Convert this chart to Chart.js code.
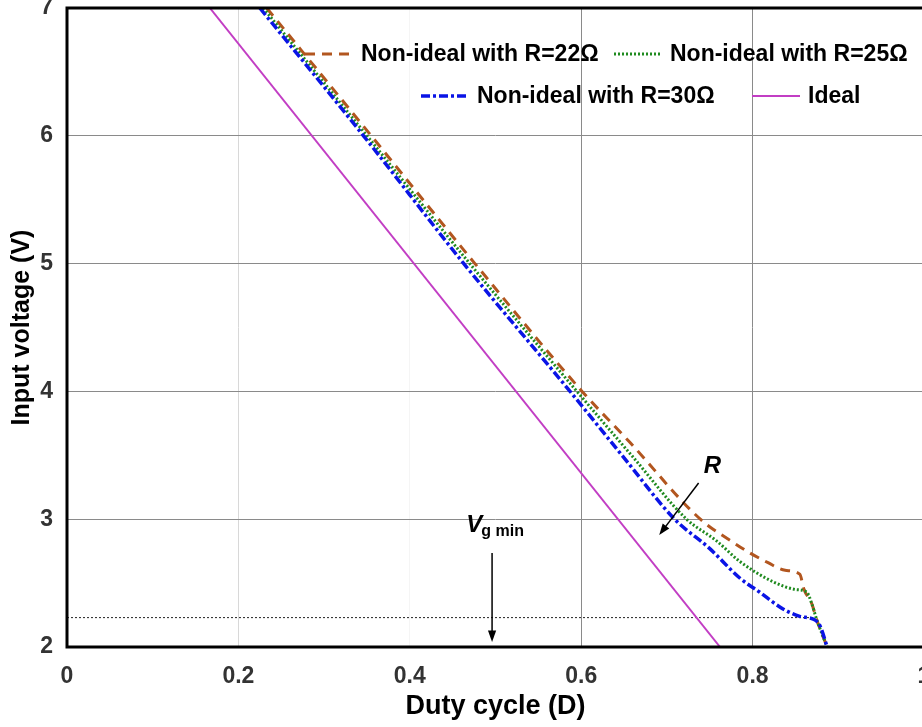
<!DOCTYPE html>
<html>
<head>
<meta charset="utf-8">
<script src="https://cdn.jsdelivr.net/npm/chart.js@4.4.0/dist/chart.umd.min.js"></script>
<style>
  html, body { margin: 0; padding: 0; background: #fff; overflow: hidden; }
  .chart-box { position: relative; width: 940px; height: 727px; }
</style>
</head>
<body>
<div class="chart-box"><canvas id="dutyChart"></canvas></div>
<script>
// values (duty cycle D -> input voltage V)
const dutyR22 = [0.233, 0.355, 0.476, 0.601, 0.657, 0.739, 0.777, 0.797, 0.818, 0.838, 0.855, 0.860, 0.869, 0.875, 0.887];
const vinR22  = [7, 6, 5, 4, 3.6, 3, 2.82, 2.735, 2.66, 2.60, 2.57, 2.45, 2.34, 2.21, 2.0];

const dutyR25 = [0.229, 0.350, 0.470, 0.595, 0.660, 0.723, 0.758, 0.785, 0.824, 0.850, 0.863, 0.869, 0.875, 0.887];
const vinR25  = [7, 6, 5, 4, 3.49, 3, 2.83, 2.67, 2.51, 2.45, 2.43, 2.34, 2.21, 2.0];

const dutyR30 = [0.225, 0.346, 0.463, 0.587, 0.650, 0.709, 0.750, 0.785, 0.808, 0.835, 0.855, 0.873, 0.879, 0.887];
const vinR30  = [7, 6, 5, 4, 3.48, 3, 2.77, 2.54, 2.43, 2.30, 2.24, 2.21, 2.16, 2.0];

const dutyIdeal = [0.1667, 0.762];
const vinIdeal  = [7, 2];

// minimum input voltage reference (dotted line)
const dutyVgmin = [0, 0.875];
const vinVgmin  = [2.23, 2.23];

const xTicks = [0, 0.2, 0.4, 0.6, 0.8, 1];
const yTicks = [2, 3, 4, 5, 6, 7];

const seriesLabels = ["Non-ideal with R=22\u03A9", "Non-ideal with R=25\u03A9", "Non-ideal with R=30\u03A9", "Ideal"];

const fontFamily = "'Liberation Sans', Arial, sans-serif";

function toPoints(xs, ys) {
  return xs.map(function (x, i) { return { x: x, y: ys[i] }; });
}

// frame around the plot area
const framePlugin = {
  id: "frame",
  afterDatasetsDraw: function (chart) {
    const a = chart.chartArea;
    const ctx = chart.ctx;
    ctx.save();
    ctx.strokeStyle = "#000";
    ctx.lineWidth = 3;
    ctx.strokeRect(a.left, a.top, a.right - a.left, a.bottom - a.top);
    ctx.restore();
  }
};

// legend drawn inside the plot, two rows like the original
const legendPlugin = {
  id: "insideLegend",
  afterDraw: function (chart) {
    const ctx = chart.ctx;
    const slots = [
      { ds: 0, x: 305, y: 54 },
      { ds: 1, x: 614, y: 54 },
      { ds: 2, x: 421, y: 96 },
      { ds: 3, x: 752, y: 96 }
    ];
    ctx.save();
    slots.forEach(function (s) {
      const ds = chart.data.datasets[s.ds];
      ctx.beginPath();
      ctx.strokeStyle = ds.borderColor;
      ctx.lineWidth = ds.borderWidth;
      ctx.setLineDash(ds.borderDash || []);
      ctx.moveTo(s.x, s.y);
      ctx.lineTo(s.x + 48, s.y);
      ctx.stroke();
      ctx.setLineDash([]);
      ctx.fillStyle = "#000";
      ctx.font = "bold 23px " + fontFamily;
      ctx.textBaseline = "middle";
      ctx.textAlign = "left";
      ctx.fillText(ds.label, s.x + 56, s.y + 1);
    });
    ctx.restore();
  }
};

function drawArrow(ctx, x1, y1, x2, y2) {
  const ang = Math.atan2(y2 - y1, x2 - x1);
  const head = 12;
  ctx.beginPath();
  ctx.moveTo(x1, y1);
  ctx.lineTo(x2 - Math.cos(ang) * head * 0.8, y2 - Math.sin(ang) * head * 0.8);
  ctx.stroke();
  ctx.beginPath();
  ctx.moveTo(x2, y2);
  ctx.lineTo(x2 - head * Math.cos(ang - 0.35), y2 - head * Math.sin(ang - 0.35));
  ctx.lineTo(x2 - head * Math.cos(ang + 0.35), y2 - head * Math.sin(ang + 0.35));
  ctx.closePath();
  ctx.fill();
}

// "R" arrow and V_gmin arrow
const notePlugin = {
  id: "notes",
  afterDatasetsDraw: function (chart) {
    const ctx = chart.ctx;
    const xs = chart.scales.x;
    const ys = chart.scales.y;
    ctx.save();
    ctx.strokeStyle = "#000";
    ctx.fillStyle = "#000";
    ctx.lineWidth = 1.5;

    drawArrow(ctx, xs.getPixelForValue(0.737), ys.getPixelForValue(3.283),
                   xs.getPixelForValue(0.691), ys.getPixelForValue(2.876));
    ctx.font = "italic bold 24px " + fontFamily;
    ctx.textAlign = "center";
    ctx.textBaseline = "middle";
    ctx.fillText("R", xs.getPixelForValue(0.753), ys.getPixelForValue(3.416));

    drawArrow(ctx, xs.getPixelForValue(0.496), ys.getPixelForValue(2.735),
                   xs.getPixelForValue(0.496), ys.getPixelForValue(2.04));
    const vx = xs.getPixelForValue(0.466);
    const vy = ys.getPixelForValue(2.955);
    ctx.textAlign = "left";
    ctx.fillText("V", vx, vy);
    ctx.font = "bold 16px " + fontFamily;
    ctx.fillText("g min", vx + 15, vy + 7);
    ctx.restore();
  }
};

function xGridColor(c) {
  const v = c.tick ? Math.round(c.tick.value * 10) / 10 : 0;
  if (v === 0.2) return "#d8d8d8";
  if (v === 0.4) return "rgba(0,0,0,0.04)";
  return "#8a8a8a";
}

const ctx = document.getElementById("dutyChart").getContext("2d");
const chart = new Chart(ctx, {
  type: "line",
  data: {
    datasets: [
      {
        label: seriesLabels[0],
        data: toPoints(dutyR22, vinR22),
        borderColor: "#b2561f",
        borderWidth: 3,
        borderDash: [10, 7],
        pointRadius: 0,
        cubicInterpolationMode: "monotone",
        order: 3
      },
      {
        label: seriesLabels[1],
        data: toPoints(dutyR25, vinR25),
        borderColor: "#1f8a1f",
        borderWidth: 3,
        borderDash: [2, 2],
        pointRadius: 0,
        cubicInterpolationMode: "monotone",
        order: 2
      },
      {
        label: seriesLabels[2],
        data: toPoints(dutyR30, vinR30),
        borderColor: "#0a14e6",
        borderWidth: 3.5,
        borderDash: [9, 3, 3, 3],
        pointRadius: 0,
        cubicInterpolationMode: "monotone",
        order: 1
      },
      {
        label: seriesLabels[3],
        data: toPoints(dutyIdeal, vinIdeal),
        borderColor: "#c23ec4",
        borderWidth: 2,
        pointRadius: 0,
        order: 4
      },
      {
        label: "Vgmin",
        data: toPoints(dutyVgmin, vinVgmin),
        borderColor: "#222",
        borderWidth: 1,
        borderDash: [2, 2],
        pointRadius: 0,
        order: 5
      }
    ]
  },
  options: {
    responsive: true,
    maintainAspectRatio: false,
    animation: false,
    layout: { padding: { top: 8, right: 16, left: 0, bottom: 0 } },
    plugins: {
      legend: { display: false },
      tooltip: { enabled: false }
    },
    scales: {
      x: {
        type: "linear",
        min: 0,
        max: 1,
        afterFit: function (s) {
          s.height = 80;
          s.paddingLeft = 0;
          s.paddingRight = 0;
        },
        afterBuildTicks: function (s) { s.ticks = xTicks.map(function (v) { return { value: v }; }); },
        border: { display: false },
        grid: { color: xGridColor, lineWidth: 1, drawTicks: false },
        ticks: {
          padding: 16,
          color: "#333",
          font: { family: fontFamily, size: 23, weight: "bold" },
          callback: function (v) { return String(v); }
        },
        title: {
          display: true,
          text: "Duty cycle (D)",
          color: "#000",
          padding: { top: 0, bottom: 4 },
          font: { family: fontFamily, size: 27, weight: "bold" }
        }
      },
      y: {
        type: "linear",
        min: 2,
        max: 7,
        afterFit: function (s) {
          s.width = 67;
          s.paddingTop = 0;
          s.paddingBottom = 0;
        },
        afterBuildTicks: function (s) { s.ticks = yTicks.map(function (v) { return { value: v }; }); },
        border: { display: false },
        grid: { color: "#8a8a8a", lineWidth: 1, drawTicks: false },
        ticks: {
          padding: 14,
          color: "#333",
          font: { family: fontFamily, size: 23, weight: "bold" }
        },
        title: {
          display: true,
          text: "Input voltage (V)",
          color: "#000",
          padding: { top: 7, bottom: 0 },
          font: { family: fontFamily, size: 25, weight: "bold" }
        }
      }
    }
  },
  plugins: [framePlugin, notePlugin, legendPlugin]
});
</script>
</body>
</html>
